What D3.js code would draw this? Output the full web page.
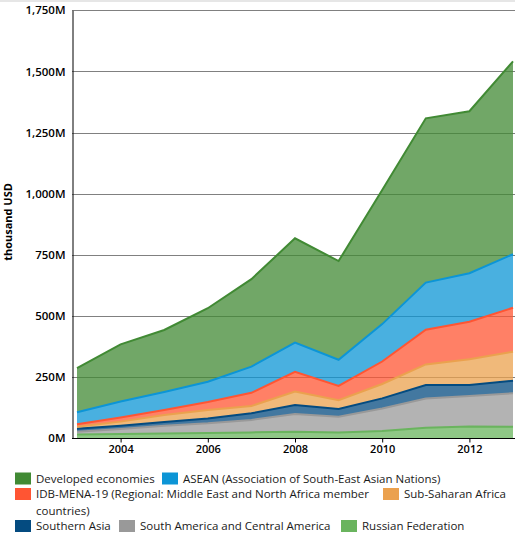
<!DOCTYPE html>
<html><head><meta charset="utf-8">
<script src="https://cdn.jsdelivr.net/npm/d3@7/dist/d3.min.js"></script>
<style>body{margin:0;background:#fff}svg{display:block}text{font-family:"Open Sans",sans-serif}</style>
</head><body><svg id="c" width="515" height="545"></svg>
<script>
const years = [2003,2004,2005,2006,2007,2008,2009,2010,2011,2012,2013];
const russia    = [14,16,18,20,23,26,22,29,42,47,46];
const southAm   = [12,21,32,40,51,72,65,92,120,125,137];
const southAsia = [12,13,15,20,27,37,32,41,55,45,51];
const subSahara = [8,17,29,35,30,55,36,59,84,105,119];
const mena      = [10,17,21,32,54,81,58,92,142,154,180];
const asean     = [49,65,73,83,107,119,107,153,193,198,219];
const developed = [181,234,254,301,358,427,404,549,672,663,789];
const yTicks = [0,250,500,750,1000,1250,1500,1750];
const xTicks = [2004,2006,2008,2010,2012];

const series = [
 {name:"Russian Federation", values:russia, color:"#6ab45e"},
 {name:"South America and Central America", values:southAm, color:"#999999"},
 {name:"Southern Asia", values:southAsia, color:"#044b80"},
 {name:"Sub-Saharan Africa", values:subSahara, color:"#eba14e"},
 {name:"IDB-MENA-19 (Regional: Middle East and North Africa member countries)", values:mena, color:"#ff5533"},
 {name:"ASEAN (Association of South-East Asian Nations)", values:asean, color:"#0c95d6"},
 {name:"Developed economies", values:developed, color:"#418a34"}
];

const svg = d3.select("#c");
svg.append("rect").attr("x",0).attr("y",0).attr("width",515).attr("height",2).attr("fill","#e6e6e6");

const x = d3.scaleLinear().domain([2003,2013]).range([77,513]);
const y = d3.scaleLinear().domain([0,1750]).range([438,10.3]);

// gridlines
svg.append("g").selectAll("line").data(yTicks.filter(d=>d>0)).join("line")
 .attr("x1",72).attr("x2",515).attr("y1",d=>Math.round(y(d))+0.5).attr("y2",d=>Math.round(y(d))+0.5)
 .attr("stroke","#808080").attr("stroke-width",1);

const table = years.map((yr,i)=>{const o={year:yr}; series.forEach(s=>o[s.name]=s.values[i]); return o;});
const stack = d3.stack().keys(series.map(s=>s.name))(table);
const area = d3.area().x(d=>x(d.data.year)).y0(d=>y(d[0])).y1(d=>y(d[1]));
const line = d3.line().x(d=>x(d.data.year)).y(d=>y(d[1]));

const g = svg.append("g");
stack.forEach((layer,i)=>{
  g.append("path").attr("d",area(layer)).attr("fill",series[i].color).attr("fill-opacity",0.75);
});
stack.forEach((layer,i)=>{
  g.append("path").attr("d",line(layer)).attr("fill","none").attr("stroke",series[i].color).attr("stroke-width",2);
});

// axes
const yAxis = svg.append("g").attr("transform","translate(72.5,0)")
 .call(d3.axisLeft(y).tickValues(yTicks).tickSize(0).tickPadding(7).tickFormat(d=>d3.format(",")(d)+"M"));
yAxis.select(".domain").attr("stroke","#000");
yAxis.selectAll("text").attr("font-size",11.5).attr("font-weight",600).attr("fill","#000").attr("font-family","'Open Sans',sans-serif");

const xAxis = svg.append("g").attr("transform","translate(0,438.5)")
 .call(d3.axisBottom(x).tickValues(xTicks).tickSize(4).tickPadding(3).tickFormat(d3.format("d")));
xAxis.select(".domain").attr("d","M72,0H515").attr("stroke","#000");
xAxis.selectAll(".tick line").attr("stroke","#000");
xAxis.selectAll("text").attr("font-size",11).attr("font-weight",600).attr("fill","#000").attr("font-family","'Open Sans',sans-serif");

svg.append("text").attr("transform","translate(12,222) rotate(-90)").attr("text-anchor","middle")
 .attr("font-size",11).attr("font-weight",700).text("thousand USD");

// legend
const lg = svg.append("g");
const rowY = [478.5, 494, 526];
const items = [
 {s:6,row:0,x:15},{s:5,row:0,x:162},
 {s:4,row:1,x:15},{s:3,row:1,x:383},
 {s:2,row:2,x:15},{s:1,row:2,x:119},{s:0,row:2,x:341}
];
items.forEach(it=>{
  const s = series[it.s], cy = rowY[it.row];
  lg.append("rect").attr("x",it.x).attr("y",cy-6).attr("width",16).attr("height",12).attr("fill",s.color);
  const t = lg.append("text").attr("x",it.x+21).attr("y",cy+4).attr("font-size",11.5).attr("fill","#1a1a1a");
  if(it.s===4){
    t.append("tspan").attr("x",it.x+21).text("IDB-MENA-19 (Regional: Middle East and North Africa member");
    t.append("tspan").attr("x",it.x+21).attr("dy",17).text("countries)");
  } else t.text(s.name);
});
</script></body></html>
